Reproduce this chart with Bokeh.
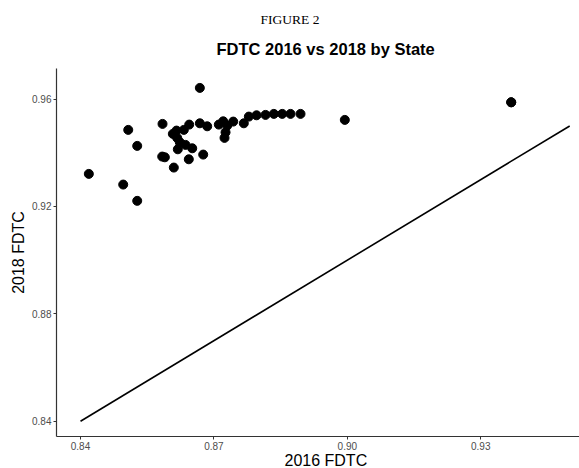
from bokeh.plotting import figure
from bokeh.models import Range1d, FixedTicker, NumeralTickFormatter, Title, ColumnDataSource
from bokeh.embed import file_html
from bokeh.resources import INLINE

# FDTC by state: 2016 (x) vs 2018 (y)
fdtc_2016 = [0.84187, 0.84960, 0.85275, 0.85073, 0.85275, 0.85844, 0.85837, 0.85896,
             0.86098, 0.86683, 0.86435, 0.86759, 0.86188, 0.86361, 0.86512, 0.86076,
             0.86159, 0.86174, 0.86233, 0.86323, 0.86444, 0.86683, 0.86849, 0.87110,
             0.87209, 0.87299, 0.87261, 0.87238, 0.87434, 0.87672, 0.87785, 0.87958,
             0.88160, 0.88347, 0.88536, 0.88722, 0.88947, 0.89943, 0.93685, 0.93685]
fdtc_2018 = [0.93214, 0.92816, 0.92209, 0.94853, 0.94257, 0.95076, 0.93859, 0.93832,
             0.93449, 0.96417, 0.93758, 0.93933, 0.94130, 0.94294, 0.94168, 0.94704,
             0.94827, 0.94555, 0.94391, 0.94853, 0.95050, 0.95099, 0.94987, 0.95050,
             0.95173, 0.95013, 0.94763, 0.94555, 0.95162, 0.95099, 0.95348, 0.95397,
             0.95411, 0.95449, 0.95449, 0.95449, 0.95449, 0.95225, 0.95881, 0.95881]

# reference line y = x
ref_x = [0.84, 0.95]
ref_y = [0.84, 0.95]

x_ticks = [0.84, 0.87, 0.90, 0.93]
y_ticks = [0.84, 0.88, 0.92, 0.96]

p = figure(width=579, height=468, output_backend="svg", toolbar_location=None,
           x_range=Range1d(0.8346, 0.9522), y_range=Range1d(0.8343, 0.9714),
           min_border_left=56, min_border_right=0, min_border_top=68, min_border_bottom=32,
           title=None)

p.add_layout(Title(text="FDTC 2016 vs 2018 by State", text_font="Liberation Sans",
                   text_font_size="16.5px", text_font_style="bold", text_color="black",
                   align="left", offset=160, standoff=17, vertical_align="top"), "above")
p.add_layout(Title(text="FIGURE 2", text_font="Liberation Serif",
                   text_font_size="13.5px", text_font_style="normal", text_color="black",
                   align="left", offset=204, standoff=6, vertical_align="top"), "above")

src = ColumnDataSource(dict(x=fdtc_2016, y=fdtc_2018))
p.line(ref_x, ref_y, line_color="black", line_width=1.6)
p.scatter("x", "y", source=src, size=9, fill_color="black", line_color="black")

p.xgrid.visible = False
p.ygrid.visible = False
p.outline_line_color = None
p.background_fill_color = "white"
p.border_fill_color = "white"

for ax, ticks in ((p.xaxis[0], x_ticks), (p.yaxis[0], y_ticks)):
    ax.ticker = FixedTicker(ticks=ticks)
    ax.formatter = NumeralTickFormatter(format="0.00")
    ax.major_label_text_font = "Liberation Sans"
    ax.major_label_text_font_size = "10px"
    ax.major_label_text_color = "#4d4d4d"
    ax.axis_line_color = "#333333"
    ax.axis_line_width = 1.2
    ax.major_tick_line_color = "#333333"
    ax.major_tick_in = 0
    ax.major_tick_out = 3
    ax.minor_tick_line_color = None
    ax.major_label_standoff = 2

ya = p.yaxis[0]
ya.axis_label = "2018 FDTC"
ya.axis_label_text_font = "Liberation Sans"
ya.axis_label_text_font_size = "16px"
ya.axis_label_text_font_style = "normal"
ya.axis_label_text_color = "black"
ya.axis_label_standoff = 2

# x axis title as a title below the axis (keeps the frame height)
p.add_layout(Title(text="2016 FDTC", text_font="Liberation Sans", text_font_size="16px",
                   text_font_style="normal", text_color="black", align="left",
                   offset=228, standoff=-6, vertical_align="bottom"), "below")

open("out.html", "w").write(file_html(p, INLINE))
